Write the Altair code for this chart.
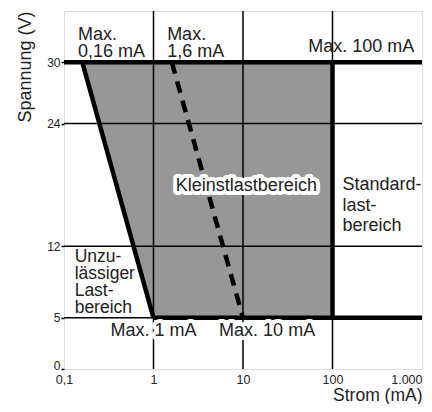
import altair as alt
import pandas as pd

# ---- data ----
x_ticks = [0.1, 1, 10, 100, 1000]
x_labels = ["0,1", "1", "10", "100", "1.000"]
y_ticks = [0, 5, 12, 24, 30]
grid_x = [1, 10, 100]
grid_y = [5, 12, 24]
y_max = 35

v_low, v_high = 5, 30              # voltage range (V)
min_top, min_bottom = 0.16, 1      # minimum current at 30 V / 5 V (mA)
mid_top, mid_bottom = 1.6, 10      # micro-load limit at 30 V / 5 V (mA)
i_max = 100                        # max current (mA)

label_texts = ["Max.\n0,16 mA", "Max.\n1,6 mA", "Max. 100 mA", "Kleinstlastbereich",
               "Standard-\nlast-\nbereich", "Unzu-\nlässiger\nLast-\nbereich",
               "Max. 1 mA", "Max. 10 mA"]
label_x = [0.143, 1.42, 820, 10.9, 129, 0.1315, 1, 18.6]
label_y = [32.2, 32.2, 31.0, 17.45, 17.5, 10.5, 3.2, 3.25]
label_align = ["left", "left", "right", "center", "left", "left", "center", "center"]
label_lh = [17, 17, 17, 17, 20.5, 17.2, 17, 17]
label_size = [18, 18, 18, 18, 18, 17.5, 18, 18]
label_halo = [False, False, False, True, False, False, True, True]

FONT = "Liberation Sans"
TXT = "#222222"

# ---- scales / axes ----
xs = alt.Scale(type="log", domain=[0.1, 1000], nice=False)
ys = alt.Scale(domain=[0, y_max], nice=False, zero=False)

lab_expr = "datum.label"
for v, l in zip(x_ticks, x_labels):
    lab_expr = f"datum.value == {v} ? '{l}' : ({lab_expr})"

x_axis = alt.Axis(values=x_ticks, labelExpr=lab_expr, grid=False, ticks=False, domain=False,
                  labelFont=FONT, labelFontSize=12.5, labelColor=TXT, labelPadding=4,
                  labelAlign={"condition": {"test": "datum.value >= 1000", "value": "right"}, "value": "center"},
                  title="Strom (mA)", titleFont=FONT, titleFontSize=17.5, titleFontWeight="normal",
                  titleColor=TXT, titleAnchor="end", titlePadding=1)
y_axis = alt.Axis(values=y_ticks, grid=False, ticks=True, tickSize=3, tickWidth=1.5, tickColor="black",
                  domain=False, labelFont=FONT, labelFontSize=12, labelColor=TXT, labelPadding=1,
                  labelBaseline={"condition": {"test": "datum.value == 0", "value": "alphabetic"}, "value": "middle"},
                  title="Spannung (V)", titleFont=FONT, titleFontSize=18, titleFontWeight="normal",
                  titleColor=TXT, titleAnchor="end", titlePadding=12)

def X(f):
    return alt.X(f, type="quantitative", scale=xs, axis=x_axis)

def Y(f):
    return alt.Y(f, type="quantitative", scale=ys, axis=y_axis)

# shaded micro-load region
region = pd.DataFrame({"y": [v_low, v_high], "x": [min_bottom, min_top], "x2": [i_max, i_max]})
area = alt.Chart(region).mark_area(orient="horizontal", color="#979797", opacity=1).encode(
    y=Y("y"), x=X("x"), x2="x2")

# thin grid
vgrid = pd.DataFrame({"x": grid_x, "y": [0] * len(grid_x), "y2": [y_max] * len(grid_x)})
hgrid = pd.DataFrame({"y": grid_y, "x": [0.1] * len(grid_y), "x2": [1000] * len(grid_y)})
vrules = alt.Chart(vgrid).mark_rule(color="black", strokeWidth=1.5).encode(x=X("x"), y=Y("y"), y2="y2")
hrules = alt.Chart(hgrid).mark_rule(color="black", strokeWidth=1.5).encode(y=Y("y"), x=X("x"), x2="x2")

# thick boundary segments
thick = pd.DataFrame({
    "x": [0.1, min_bottom, i_max, min_top],
    "x2": [1000, 1000, i_max, min_bottom],
    "y": [v_high, v_low, v_low, v_high],
    "y2": [v_high, v_low, v_high, v_low],
})
thick_rules = alt.Chart(thick).mark_rule(color="black", strokeWidth=4.5).encode(
    x=X("x"), x2="x2", y=Y("y"), y2="y2")

dash = pd.DataFrame({"x": [mid_top], "x2": [mid_bottom], "y": [v_high], "y2": [v_low]})
dash_rule = alt.Chart(dash).mark_rule(color="black", strokeWidth=4.5, strokeDash=[12, 8]).encode(
    x=X("x"), x2="x2", y=Y("y"), y2="y2")

labels = pd.DataFrame({"text": label_texts, "x": label_x, "y": label_y})

text_layers = []
for i in range(len(label_texts)):
    d = labels.iloc[[i]]
    common = dict(align=label_align[i], baseline="alphabetic", font=FONT, fontSize=label_size[i],
                  lineBreak="\n", lineHeight=label_lh[i])
    if label_halo[i]:
        halo = alt.Chart(d).mark_text(color="white", stroke="white", strokeWidth=8,
                                      strokeJoin="round", **common).encode(
            x=X("x"), y=Y("y"), text="text:N")
        text_layers.append(halo)
    txt = alt.Chart(d).mark_text(color=TXT, **common).encode(x=X("x"), y=Y("y"), text="text:N")
    text_layers.append(txt)

chart = alt.layer(area, vrules, hrules, thick_rules, dash_rule, *text_layers).properties(
    width=358, height=358,
    padding={"left": 56, "top": 3, "right": 2, "bottom": 35},
    autosize=alt.AutoSizeParams(type="none"),
).configure_view(stroke="black", strokeWidth=3).configure(background="white")

chart.save("out.html", embed_options={"renderer": "svg", "actions": False})
